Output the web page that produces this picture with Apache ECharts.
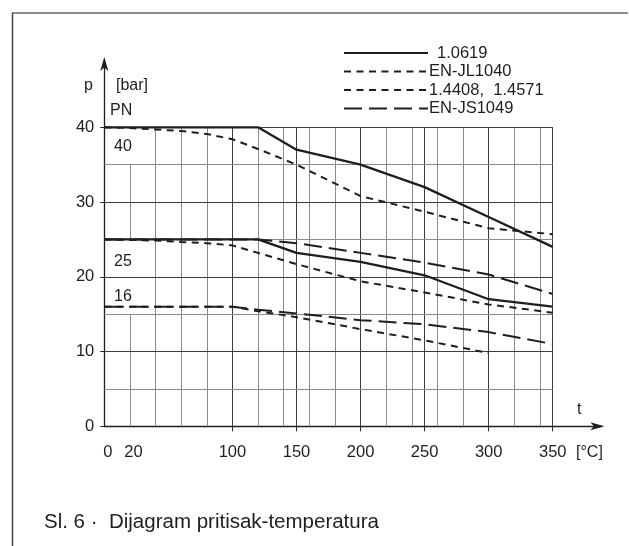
<!DOCTYPE html>
<html>
<head>
<meta charset="utf-8">
<script src="https://cdn.jsdelivr.net/npm/echarts@6/dist/echarts.min.js"></script>
<style>
html,body{margin:0;padding:0;background:#fff;}
#c{width:629px;height:546px;}
</style>
</head>
<body>
<div id="c"></div>
<script>
// ---- data (temperature °C, pressure bar) ----
const xLabels = [0, 20, 100, 150, 200, 250, 300, 350];
const xTicks = [100, 150, 200, 250, 300, 350];
const yLabels = [0, 10, 20, 30, 40];
const gridXLight = [40, 60, 80, 120, 140, 160, 180, 220, 240, 260, 280, 320, 340];
const gridXDark = [100, 150, 200, 250, 300, 350];
const gridX20Segments = [[0, 15], [25, 35]];
const gridYDark = [10, 20, 30, 40];
const gridYLight = [5, 15, 25, 35];

const s1_0619_pn40 = [[0,40],[120,40],[150,37],[200,35],[250,32],[300,28],[350,24]];
const s1_0619_pn25 = [[0,25],[120,25],[150,23.2],[200,22],[250,20.2],[300,17],[350,16]];
const sJL1040_pn16 = [[0,16],[100,16],[120,15.4],[150,14.6],[200,13],[250,11.5],[300,9.8]];
const s14408_pn40 = [[0,40],[20,39.9],[40,39.7],[60,39.5],[80,39.1],[100,38.4],[120,37.1],[150,35],[200,30.8],[250,28.7],[300,26.5],[350,25.7]];
const s14408_pn25 = [[0,25],[40,24.85],[60,24.65],[80,24.5],[100,24.2],[120,23.2],[150,21.7],[200,19.4],[250,17.9],[300,16.3],[350,15.2]];
const sJS1049_pn25 = [[0,25],[120,25],[150,24.5],[200,23.2],[250,21.9],[300,20.3],[350,17.7]];
const sJS1049_pn16 = [[0,16],[100,16],[120,15.6],[150,15.1],[200,14.2],[250,13.65],[300,12.6],[350,11]];

const names = ['1.0619', 'EN-JL1040', '1.4408,  1.4571', 'EN-JS1049'];

// ---- styles ----
const FONT = "'Liberation Sans', Arial, sans-serif";
const INK = '#1e1e1e';
const LIGHT = '#8c8c8c';
const DARK = '#3c3c3c';
const solid = { color: INK, width: 2.3, type: 'solid' };
const shortDash = { color: INK, width: 2, type: [7, 5.5] };
const longDash = { color: INK, width: 2, type: [18, 7] };

const gridLines = [];
gridXLight.forEach(x => gridLines.push([{ coord: [x, 0], lineStyle: { color: LIGHT, width: 1, type: 'solid' } }, { coord: [x, 40] }]));
gridXDark.forEach(x => gridLines.push([{ coord: [x, 0], lineStyle: { color: DARK, width: 1, type: 'solid' } }, { coord: [x, 40] }]));
gridX20Segments.forEach(s => gridLines.push([{ coord: [20, s[0]], lineStyle: { color: LIGHT, width: 1, type: 'solid' } }, { coord: [20, s[1]] }]));
gridYLight.forEach(y => gridLines.push([{ coord: [0, y], lineStyle: { color: LIGHT, width: 1, type: 'solid' } }, { coord: [350, y] }]));
gridYDark.forEach(y => gridLines.push([{ coord: [0, y], lineStyle: { color: DARK, width: 1, type: 'solid' } }, { coord: [350, y] }]));

function lineSeries(name, data, style) {
  return {
    name: name, type: 'line', data: data, symbol: 'none', showSymbol: false,
    lineStyle: style, itemStyle: { color: INK }, z: 5, animation: false, silent: true
  };
}

const chart = echarts.init(document.getElementById('c'), null, { renderer: 'canvas' });
const txt = (text, x, y, size) => ({
  type: 'text', x: x, y: y,
  style: { text: text, font: size + 'px ' + FONT, fill: INK, align: 'left', verticalAlign: 'middle', textAlign: 'left', textVerticalAlign: 'middle' }
});

chart.setOption({
  animation: false,
  backgroundColor: '#fff',
  textStyle: { fontFamily: FONT },
  grid: { left: 104.3, right: 27.6, top: 60, bottom: 119.7, containLabel: false },
  legend: {
    orient: 'vertical', left: 343, top: 44.5, padding: 0, itemWidth: 84, itemHeight: 14, itemGap: 1.5,
    selectedMode: false,
    itemStyle: { color: 'rgba(0,0,0,0)', borderWidth: 0, opacity: 0 },
    data: [
      { name: names[0], textStyle: { padding: [0, 0, 0, 4] } },
      { name: names[1], textStyle: { padding: [0, 0, 0, -4] } },
      { name: names[2], textStyle: { padding: [0, 0, 0, -4] } },
      { name: names[3], textStyle: { padding: [0, 0, 0, -4] } }
    ],
    textStyle: { fontSize: 16.5, color: INK, fontFamily: FONT }
  },
  xAxis: {
    type: 'value', min: 0, max: 388,
    splitLine: { show: false },
    axisLine: { show: true, lineStyle: { color: INK, width: 1.3 }, symbol: ['none', 'arrow'], symbolSize: [6, 14], symbolOffset: [0, 3] },
    axisTick: { show: true, customValues: xTicks, length: 5, lineStyle: { color: INK } },
    axisLabel: {
      customValues: xLabels, margin: 18, fontSize: 16.5, color: INK, fontFamily: FONT,
      formatter: v => (v < 50 ? '{s|' + v + '}' : String(v)),
      rich: { s: { fontSize: 16.5, color: INK, fontFamily: FONT, padding: [0, 0, 0, 7] } }
    }
  },
  yAxis: {
    type: 'value', min: 0, max: 49,
    splitLine: { show: false },
    axisLine: { show: true, lineStyle: { color: INK, width: 1.3 }, symbol: ['none', 'arrow'], symbolSize: [6, 14], symbolOffset: [0, 3] },
    axisTick: { show: true, customValues: yLabels, length: 4, lineStyle: { color: INK } },
    axisLabel: { customValues: yLabels, margin: 10, fontSize: 16.5, color: INK, fontFamily: FONT }
  },
  series: [
    { name: 'grid', type: 'line', data: [], z: 1, silent: true, animation: false,
      markLine: { symbol: 'none', silent: true, animation: false, label: { show: false }, data: gridLines } },
    lineSeries(names[0], s1_0619_pn40, solid),
    lineSeries(names[0], s1_0619_pn25, solid),
    lineSeries(names[1], sJL1040_pn16, shortDash),
    lineSeries(names[2], s14408_pn40, shortDash),
    lineSeries(names[2], s14408_pn25, shortDash),
    lineSeries(names[3], sJS1049_pn25, longDash),
    lineSeries(names[3], sJS1049_pn16, longDash)
  ],
  graphic: [
    { type: 'line', shape: { x1: 12, y1: 13, x2: 628, y2: 13 }, style: { stroke: '#666', lineWidth: 1.5 } },
    { type: 'line', shape: { x1: 12.5, y1: 13, x2: 12.5, y2: 546 }, style: { stroke: '#444', lineWidth: 1.5 } },
    txt('p', 84, 86, 16),
    txt('[bar]', 116, 86, 16),
    txt('PN', 110, 111, 16),
    txt('40', 114, 146.7, 16),
    txt('25', 114, 261.7, 16),
    txt('16', 114, 296.7, 16),
    txt('t', 577, 410, 16),
    txt('[°C]', 576, 452.6, 16),
    txt('Sl. 6 ·  Dijagram pritisak-temperatura', 44, 522, 20.5)
  ]
});
</script>
</body>
</html>
